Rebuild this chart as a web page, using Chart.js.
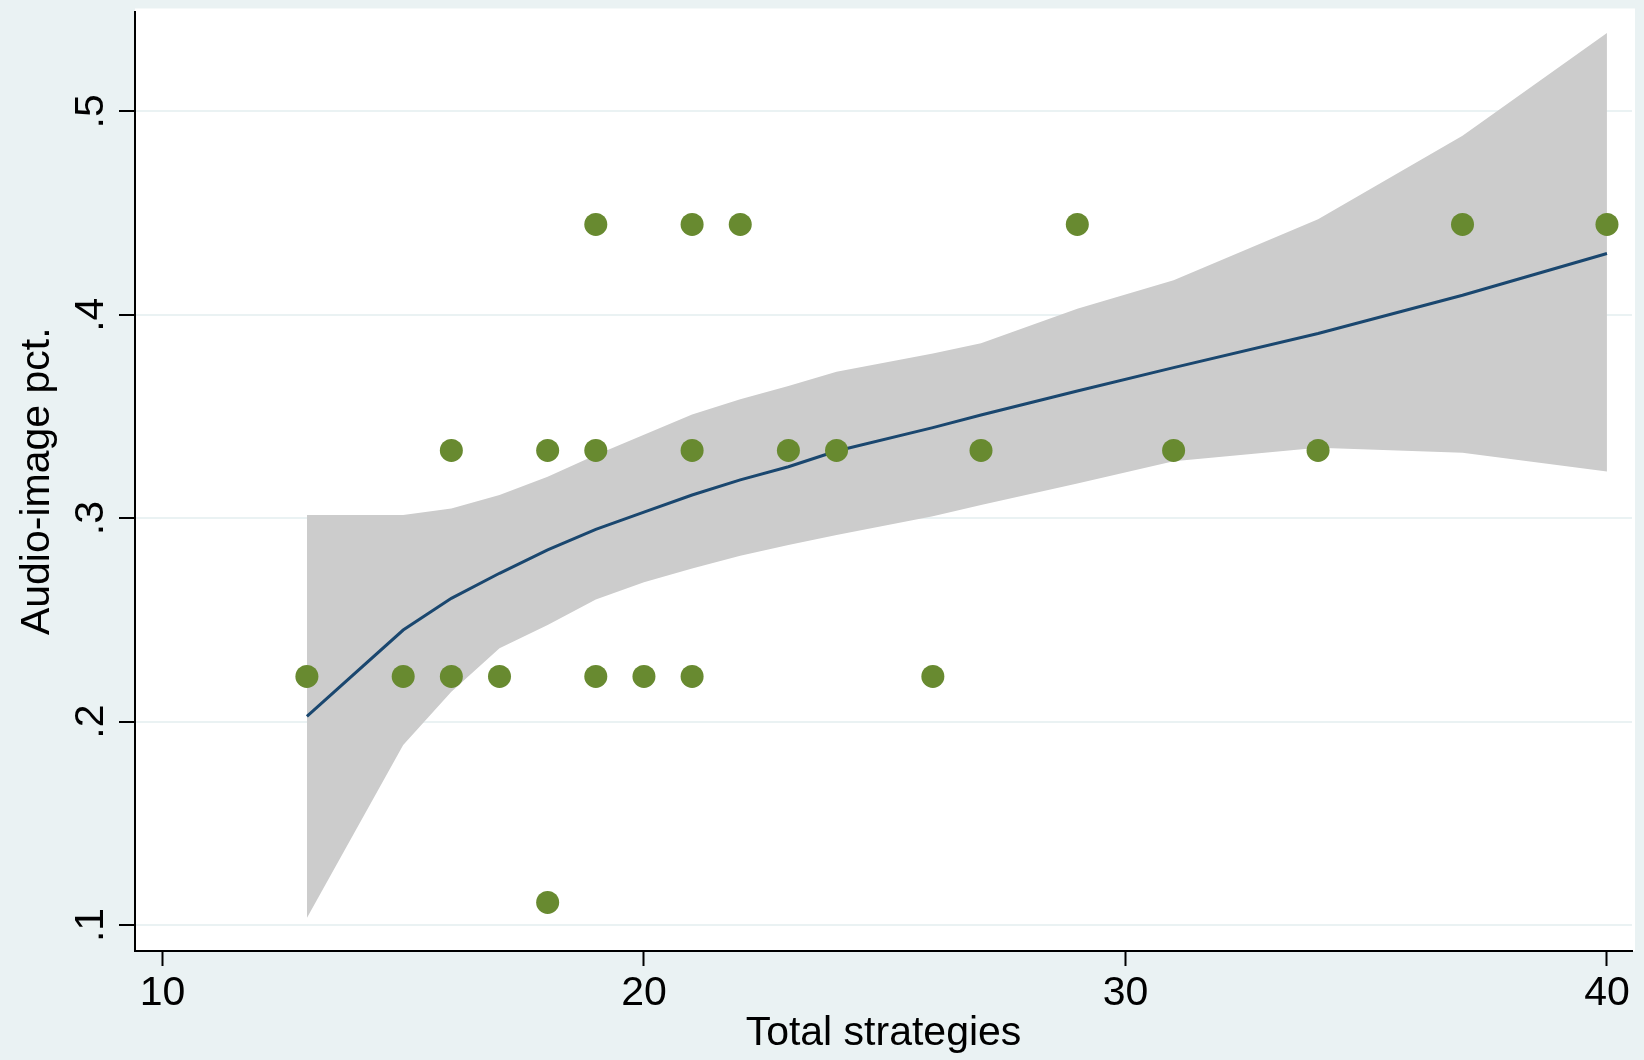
<!DOCTYPE html>
<html lang="en">
<head>
    <meta charset="UTF-8">
    <title>Audio-image pct. vs Total strategies</title>
    <script src="https://cdn.jsdelivr.net/npm/chart.js"></script>
    <style>
        html, body { margin: 0; padding: 0; background: #eaf2f3; }
        .chart-box { width: 1644px; height: 1060px; position: relative; }
    </style>
</head>
<body>
    <div class="chart-box">
        <canvas id="fitChart"></canvas>
    </div>
    <script>
        // observed points
        const scatterX = [13, 15, 16, 17, 19, 20, 21, 26,
                          16, 18, 19, 21, 23, 24, 27, 31, 34,
                          19, 21, 22, 29, 37, 40,
                          18];
        const scatterY = [0.2222, 0.2222, 0.2222, 0.2222, 0.2222, 0.2222, 0.2222, 0.2222,
                          0.3333, 0.3333, 0.3333, 0.3333, 0.3333, 0.3333, 0.3333, 0.3333, 0.3333,
                          0.4444, 0.4444, 0.4444, 0.4444, 0.4444, 0.4444,
                          0.1111];

        // fitted curve and confidence band
        const fitX    = [13, 15, 16, 17, 18, 19, 20, 21, 22, 23, 24, 26, 27, 29, 31, 34, 37, 40];
        const fitY    = [0.2025, 0.2450, 0.2606, 0.2729, 0.2844, 0.2945, 0.3030, 0.3114, 0.3188,
                         0.3253, 0.3330, 0.3445, 0.3507, 0.3625, 0.3740, 0.3908, 0.4096, 0.4301];
        const ciUpper = [0.3016, 0.3016, 0.3048, 0.3114, 0.3204, 0.3310, 0.3410, 0.3510, 0.3585,
                         0.3650, 0.3720, 0.3810, 0.3860, 0.4030, 0.4170, 0.4470, 0.4880, 0.5385];
        const ciLower = [0.1034, 0.1885, 0.2147, 0.2360, 0.2475, 0.2600, 0.2685, 0.2753, 0.2815,
                         0.2868, 0.2917, 0.3010, 0.3065, 0.3170, 0.3280, 0.3346, 0.3322, 0.3229];

        const xTicks = [10, 20, 30, 40];
        const yTicks = [0.1, 0.2, 0.3, 0.4, 0.5];

        const pairs = (xs, ys) => xs.map((x, i) => ({ x: x, y: ys[i] }));
        const FONT = '"Liberation Sans", Arial, Helvetica, sans-serif';

        const plotBackground = {
            id: 'plotBackground',
            beforeDraw(chart) {
                const ctx = chart.ctx;
                const a = chart.chartArea;
                ctx.save();
                ctx.fillStyle = '#eaf2f3';
                ctx.fillRect(0, 0, chart.width, chart.height);
                ctx.fillStyle = '#ffffff';
                ctx.fillRect(a.left, a.top - 3, a.right - a.left + 3, a.bottom - a.top + 3);
                ctx.restore();
            }
        };

        const fitChart = new Chart(document.getElementById('fitChart'), {
            type: 'scatter',
            data: {
                datasets: [
                    {
                        label: 'upper',
                        type: 'line',
                        data: pairs(fitX, ciUpper),
                        borderWidth: 0,
                        pointRadius: 0,
                        backgroundColor: '#cccccc',
                        fill: '+1',
                        tension: 0,
                        order: 3
                    },
                    {
                        label: 'lower',
                        type: 'line',
                        data: pairs(fitX, ciLower),
                        borderWidth: 0,
                        pointRadius: 0,
                        fill: false,
                        tension: 0,
                        order: 4
                    },
                    {
                        label: 'fit',
                        type: 'line',
                        data: pairs(fitX, fitY),
                        borderColor: '#1a476f',
                        borderWidth: 3,
                        pointRadius: 0,
                        fill: false,
                        tension: 0,
                        order: 2
                    },
                    {
                        label: 'Audio-image pct.',
                        data: pairs(scatterX, scatterY),
                        pointRadius: 11.5,
                        pointBackgroundColor: '#688a30',
                        pointBorderWidth: 0,
                        order: 1
                    }
                ]
            },
            options: {
                responsive: true,
                maintainAspectRatio: false,
                animation: false,
                layout: { padding: { top: 10, right: 12, left: 0, bottom: 0 } },
                plugins: {
                    legend: { display: false },
                    tooltip: { enabled: false }
                },
                scales: {
                    x: {
                        type: 'linear',
                        min: 9.43,
                        max: 40.52,
                        afterBuildTicks: s => { s.ticks = xTicks.map(v => ({ value: v })); },
                        afterFit: s => { s.height = 109; s.paddingLeft = 0; s.paddingRight = 0; },
                        border: { color: '#000', width: 2 },
                        grid: { drawOnChartArea: false, tickLength: 15, tickWidth: 2, tickColor: '#000' },
                        ticks: {
                            color: '#000',
                            padding: 3,
                            maxRotation: 0,
                            font: { family: FONT, size: 41 },
                            callback: v => String(v)
                        },
                        title: {
                            display: true,
                            text: 'Total strategies',
                            color: '#000',
                            font: { family: FONT, size: 41 },
                            padding: { top: 0, bottom: 2 }
                        }
                    },
                    y: {
                        type: 'linear',
                        min: 0.0872,
                        max: 0.5491,
                        afterBuildTicks: s => { s.ticks = yTicks.map(v => ({ value: v })); },
                        afterFit: s => { s.width = 135; s.paddingTop = 0; s.paddingBottom = 0; },
                        border: { color: '#000', width: 2 },
                        grid: { color: '#eaf2f3', lineWidth: 2, tickLength: 16, tickWidth: 2, tickColor: '#000' },
                        ticks: {
                            color: '#000',
                            padding: 10,
                            minRotation: 90,
                            maxRotation: 90,
                            crossAlign: 'center',
                            font: { family: FONT, size: 41 },
                            callback: v => '.' + Math.round(v * 10)
                        },
                        title: {
                            display: true,
                            text: 'Audio-image pct.',
                            color: '#000',
                            font: { family: FONT, size: 41 },
                            padding: { top: 13, bottom: 0 }
                        }
                    }
                }
            },
            plugins: [plotBackground]
        });
    </script>
</body>
</html>
